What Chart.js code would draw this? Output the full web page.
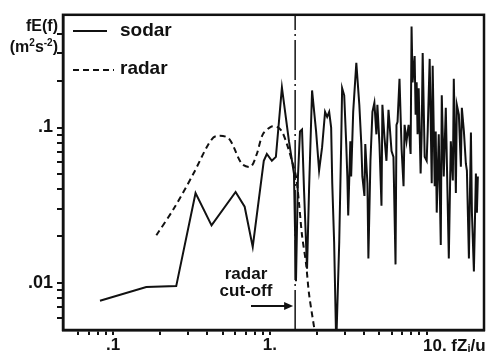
<!DOCTYPE html>
<html>
<head>
<meta charset="utf-8">
<script src="https://cdn.jsdelivr.net/npm/chart.js@4.4.1/dist/chart.umd.min.js"></script>
<style>
html,body{margin:0;padding:0;background:#fff;}
#wrap{position:relative;width:503px;height:352px;}
</style>
</head>
<body>
<div id="wrap"><canvas id="c" width="503" height="352"></canvas></div>
<script>
// ---- data (log-log spectrum) ----
const sodarF = [0.0826,0.163,0.253,0.336,0.425,0.605,0.691,0.778,0.915,0.957,1.03,1.093,1.194,1.324,1.425,1.468,1.511,1.557,1.604,1.652,1.727,1.778,1.859,1.972,2.061,2.154,2.25,2.32,2.39,2.46,2.50,2.57,2.65,2.77,2.85,2.89,2.98,3.07,3.12,3.16,3.26,3.30,3.40,3.56,3.72,3.83,3.89,4.01,4.06,4.19,4.25,4.38,4.51,4.64,4.78,4.85,5.0,5.15,5.22,5.38,5.54,5.71,5.97,6.14,6.33,6.42,6.52,6.71,6.92,7.12,7.23,7.44,7.67,7.90,8.01,8.13,8.38,8.50,8.63,8.75,8.89,9.15,9.29,9.43,9.71,10.0,10.15,10.45,10.77,10.92,11.25,11.42,11.59,11.94,12.3,12.48,12.85,13.24,13.43,13.84,14.25,14.68,14.89,15.35,15.57,16.04,16.52,16.76,17.27,17.78,18.05,18.59,19.15,19.43,20.0,20.6,20.9,21.2];
const sodarE = [0.0077,0.00944,0.00957,0.0379,0.0235,0.0385,0.0310,0.0171,0.0611,0.0676,0.0611,0.0648,0.181,0.0817,0.0506,0.0103,0.0485,0.0944,0.0971,0.0396,0.0124,0.0396,0.173,0.0944,0.0529,0.0748,0.126,0.117,0.126,0.100,0.0438,0.0184,0.0040,0.0184,0.0782,0.179,0.161,0.0782,0.0485,0.0272,0.0817,0.0485,0.126,0.260,0.140,0.0782,0.0485,0.0363,0.0782,0.0438,0.0144,0.0611,0.126,0.144,0.0904,0.140,0.0782,0.0314,0.140,0.0865,0.0611,0.130,0.0706,0.0648,0.0132,0.104,0.109,0.206,0.0727,0.0419,0.104,0.0817,0.104,0.0676,0.445,0.195,0.288,0.121,0.195,0.0904,0.179,0.0506,0.0904,0.301,0.0648,0.0611,0.0944,0.276,0.0438,0.249,0.0419,0.0944,0.0284,0.0904,0.0176,0.161,0.0485,0.134,0.0648,0.0144,0.0817,0.0457,0.206,0.0379,0.140,0.121,0.056,0.134,0.0944,0.0585,0.0529,0.0144,0.093,0.0284,0.0119,0.0506,0.0284,0.0485];
const radarF = [0.189,0.246,0.326,0.406,0.451,0.546,0.662,0.756,0.826,0.902,1.015,1.109,1.194,1.285,1.384,1.468,1.534,1.604,1.701,1.778,1.915];
const radarE = [0.0203,0.0305,0.0506,0.0782,0.0878,0.0853,0.0585,0.056,0.0676,0.0904,0.101,0.101,0.0944,0.0782,0.0611,0.0485,0.0328,0.0203,0.0134,0.00853,0.00521];
const cutoffF = 1.45;
const xRange = [0.048, 23.2];
const yRange = [0.005, 0.53];
const xTicks = [0.06,0.07,0.08,0.09,0.1,0.2,0.3,0.4,0.5,0.6,0.7,0.8,0.9,1,2,3,4,5,6,7,8,9,10];
const yTicks = [0.006,0.007,0.008,0.009,0.01,0.02,0.03,0.04,0.05,0.06,0.07,0.08,0.09,0.1,0.2,0.3,0.4];
const xLabels = {0.1: '.1', 1: '1.'};
const yLabels = {0.01: '.01', 0.1: '.1'};
const seriesNames = ['sodar', 'radar'];

const INK = '#111';
const FONT = '"Liberation Sans", Arial, Helvetica, sans-serif';

function runs(ctx, parts, x, y) {
  // parts: [text, size, dy]
  for (const [t, size, dy] of parts) {
    ctx.font = 'bold ' + size + 'px ' + FONT;
    ctx.fillText(t, x, y + dy);
    x += ctx.measureText(t).width;
  }
  return x;
}
function runsWidth(ctx, parts) {
  let w = 0;
  for (const [t, size] of parts) { ctx.font = 'bold ' + size + 'px ' + FONT; w += ctx.measureText(t).width; }
  return w;
}

const decor = {
  id: 'decor',
  afterDraw(chart) {
    const {ctx, chartArea: a, scales: {x, y}} = chart;
    ctx.save();
    ctx.strokeStyle = INK;
    ctx.fillStyle = INK;
    ctx.lineWidth = 2.5;
    ctx.strokeRect(a.left, a.top, a.right - a.left, a.bottom - a.top);

    // legend
    ctx.lineWidth = 2;
    ctx.beginPath(); ctx.moveTo(73, 31); ctx.lineTo(107, 31); ctx.stroke();
    ctx.setLineDash([6, 4]);
    ctx.beginPath(); ctx.moveTo(73, 70); ctx.lineTo(114, 70); ctx.stroke();
    ctx.setLineDash([]);
    ctx.font = 'bold 19px ' + FONT;
    ctx.textAlign = 'left'; ctx.textBaseline = 'middle';
    ctx.fillText(seriesNames[0], 120, 31);
    ctx.fillText(seriesNames[1], 120, 69);

    // y axis title
    ctx.textAlign = 'left'; ctx.textBaseline = 'alphabetic';
    const t1 = [['fE(f)', 16, 0]];
    runs(ctx, t1, 58 - runsWidth(ctx, t1), 31);
    const t2 = [['(m', 16, 0], ['2', 10, -6], ['s', 16, 0], ['-2', 10, -6], [')', 16, 0]];
    runs(ctx, t2, 58 - runsWidth(ctx, t2), 52);

    // x axis title with 10. label
    runs(ctx, [['10. fZ', 17, 0], ['i', 11, 1], ['/u', 17, 0]], 423, 351);

    // radar cut-off annotation
    const cx = x.getPixelForValue(cutoffF);
    ctx.font = 'bold 17px ' + FONT;
    ctx.textAlign = 'center'; ctx.textBaseline = 'middle';
    ctx.fillText('radar', 246, 274);
    ctx.fillText('cut-off', 246, 291);
    ctx.lineWidth = 2;
    ctx.beginPath(); ctx.moveTo(251, 306); ctx.lineTo(cx - 8, 306); ctx.stroke();
    ctx.beginPath(); ctx.moveTo(cx - 2, 306); ctx.lineTo(cx - 11, 302); ctx.lineTo(cx - 11, 310); ctx.closePath(); ctx.fill();
    ctx.restore();
  }
};

const sodarData = sodarF.map((f, i) => ({x: f, y: sodarE[i]}));
const radarData = radarF.map((f, i) => ({x: f, y: radarE[i]}));
const cutData = [{x: cutoffF, y: yRange[0]}, {x: cutoffF, y: yRange[1]}];

new Chart(document.getElementById('c'), {
  type: 'line',
  data: {
    datasets: [
      {label: seriesNames[0], data: sodarData, borderColor: INK, borderWidth: 2, pointRadius: 0, tension: 0},
      {label: seriesNames[1], data: radarData, borderColor: INK, borderWidth: 2, borderDash: [6, 4], pointRadius: 0, tension: 0.3},
      {label: 'cut-off', data: cutData, borderColor: INK, borderWidth: 1.5, borderDash: [40, 4, 2, 4], pointRadius: 0}
    ]
  },
  options: {
    responsive: false,
    animation: false,
    devicePixelRatio: 1,
    layout: {padding: {left: 0, right: 19, top: 8, bottom: 0}},
    plugins: {legend: {display: false}, tooltip: {enabled: false}},
    scales: {
      x: {
        type: 'logarithmic', min: xRange[0], max: xRange[1],
        afterBuildTicks: s => { s.ticks = xTicks.map(v => ({value: v})); },
        afterFit: s => { s.height = 22; },
        border: {display: true, color: INK, width: 2.5},
        grid: {display: true, drawOnChartArea: false, drawTicks: true, tickLength: 5, tickColor: INK, lineWidth: 2},
        ticks: {autoSkip: false, maxRotation: 0, padding: 0, color: INK, font: {family: FONT, size: 17, weight: 'bold'},
          callback: v => xLabels[v] || ''}
      },
      y: {
        type: 'logarithmic', min: yRange[0], max: yRange[1],
        afterBuildTicks: s => { s.ticks = yTicks.map(v => ({value: v})); },
        afterFit: s => { s.width = 63; },
        border: {display: true, color: INK, width: 2.5},
        grid: {display: true, drawOnChartArea: false, drawTicks: true, tickLength: 6, tickColor: INK, lineWidth: 2},
        ticks: {autoSkip: false, padding: 4, color: INK, font: {family: FONT, size: 18, weight: 'bold'},
          callback: v => yLabels[v] || ''}
      }
    }
  },
  plugins: [decor]
});
</script>
</body>
</html>
